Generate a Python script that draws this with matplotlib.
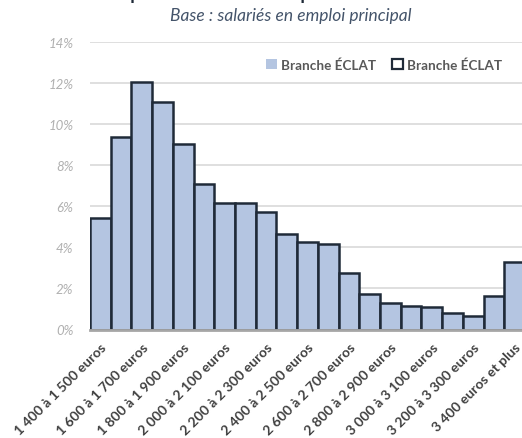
import matplotlib
matplotlib.use("Agg")
import matplotlib.pyplot as plt
from matplotlib.patches import Patch
from matplotlib.ticker import FuncFormatter

## data (share of employees per wage band, %)
tranches = ["1 400 à 1 500 euros", "1 500 à 1 600 euros", "1 600 à 1 700 euros",
            "1 700 à 1 800 euros", "1 800 à 1 900 euros", "1 900 à 2 000 euros",
            "2 000 à 2 100 euros", "2 100 à 2 200 euros", "2 200 à 2 300 euros",
            "2 300 à 2 400 euros", "2 400 à 2 500 euros", "2 500 à 2 600 euros",
            "2 600 à 2 700 euros", "2 700 à 2 800 euros", "2 800 à 2 900 euros",
            "2 900 à 3 000 euros", "3 000 à 3 100 euros", "3 100 à 3 200 euros",
            "3 200 à 3 300 euros", "3 300 à 3 400 euros", "3 400 euros et plus"]
parts = [5.45, 9.38, 12.06, 11.06, 9.02, 7.07, 6.15, 6.15, 5.74, 4.63, 4.28,
         4.14, 2.77, 1.73, 1.28, 1.16, 1.11, 0.79, 0.67, 1.65, 3.31]
serie = "Branche ÉCLAT"

plt.rcParams['font.family'] = ['Lato', 'DejaVu Sans']

FILL = "#b4c5e1"
EDGE = "#1f2a38"

fig = plt.figure(figsize=(5.22, 4.39), dpi=100)
# axes runs a little past the right edge, like the cropped original
ax = fig.add_axes([90 / 522, 1 - 330.5 / 439, 435 / 522, (330.5 - 43) / 439])

x = list(range(len(tranches)))
ax.bar(x, parts, width=1.0, color=FILL, edgecolor=EDGE, linewidth=1.8, zorder=3)

ax.set_xlim(-0.5, len(tranches) - 0.5)
ax.set_ylim(0, 14)
ax.set_yticks(range(0, 15, 2))
ax.yaxis.set_major_formatter(FuncFormatter(lambda v, p: f"{v:.0f}%"))
ax.grid(axis="y", color="#d9d9d9", linewidth=1.2, zorder=0)
ax.tick_params(axis="y", length=0, pad=12, labelsize=9.5, labelcolor="#b0b0b0")
for t in ax.get_yticklabels():
    t.set_fontstyle("italic")

ax.set_xticks(x[::2])
ax.set_xticklabels(tranches[::2], rotation=45, ha="right", rotation_mode="anchor",
                   fontsize=10, fontweight="bold", color="#404040")
ax.tick_params(axis="x", length=0, pad=8)

for s in ["top", "right", "left"]:
    ax.spines[s].set_visible(False)
ax.spines["bottom"].set_color("#a6a6a6")
ax.spines["bottom"].set_linewidth(2)
ax.spines["bottom"].set_zorder(4)

handles = [Patch(facecolor=FILL, edgecolor="none"),
           Patch(facecolor="white", edgecolor=EDGE, linewidth=1.6)]
ax.legend(handles, [serie, serie], ncol=2, frameon=False, loc="upper right",
          bbox_to_anchor=(0.975, 0.985), handlelength=0.8, handleheight=0.8,
          handletextpad=0.3, columnspacing=1.2,
          prop={"size": 9.7, "weight": "bold"}, labelcolor="#595959")

## title is cut at the top of the picture, only its lower edge shows
fig.text(0.557, 1.0, "Répartition des salariés par tranche de salaire",
         ha="center", va="baseline", fontsize=13, fontweight="bold", color="#1f2a38")
fig.text(0.557, 1 - 16 / 439, "Base : salariés en emploi principal", ha="center",
         va="center", fontsize=12.5, style="italic", color="#44546a")

fig.savefig("out.png", dpi=100)
